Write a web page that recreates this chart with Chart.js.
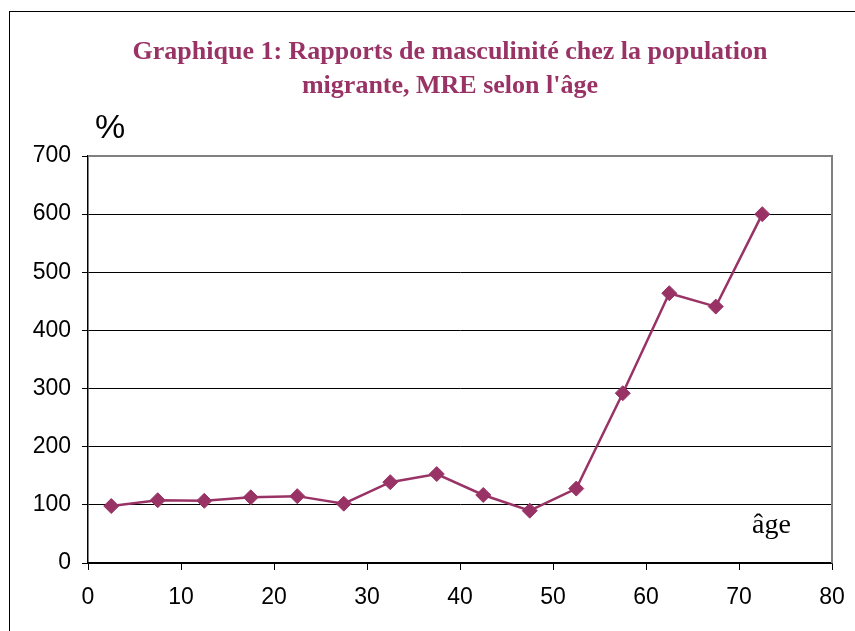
<!DOCTYPE html>
<html>
<head>
<meta charset="utf-8">
<script src="https://cdn.jsdelivr.net/npm/chart.js@4/dist/chart.umd.min.js"></script>
<style>
  html, body { margin: 0; padding: 0; background: #fff; overflow: hidden; }
  #wrap { position: relative; width: 855px; height: 631px; }
  #frame { position: absolute; left: 9px; top: 11px; width: 900px; height: 700px; border: 1.5px solid #000; }
  canvas { position: absolute; left: 0; top: 0; }
</style>
</head>
<body>
<div id="wrap">
  <div id="frame"></div>
  <canvas id="chart" width="855" height="631"></canvas>
</div>
<script>
// age group midpoints and sex ratio (%)
var ages = [2.5, 7.5, 12.5, 17.5, 22.5, 27.5, 32.5, 37.5, 42.5, 47.5, 52.5, 57.5, 62.5, 67.5, 72.5]
var ratios = [98, 108, 107, 113, 115, 102, 139, 153, 117, 90, 128, 292, 464, 441, 600]
var titleLines = ["Graphique 1: Rapports de masculinité chez la population", "migrante, MRE selon l'âge"]
var yUnit = "%"
var xName = "âge"

var color = "#993366"

const extraText = {
  id: "extraText",
  beforeDatasetsDraw(chart) {
    const { ctx, chartArea } = chart;
    // plot area border (top and right in grey)
    ctx.save();
    ctx.strokeStyle = "#808080";
    ctx.lineWidth = 2;
    ctx.beginPath();
    ctx.moveTo(chartArea.left, chartArea.top);
    ctx.lineTo(chartArea.right, chartArea.top);
    ctx.lineTo(chartArea.right, chartArea.bottom);
    ctx.stroke();
    ctx.restore();
  },
  afterDraw(chart) {
    const { ctx } = chart;
    ctx.save();
    ctx.fillStyle = color;
    ctx.textAlign = "center";
    ctx.textBaseline = "alphabetic";
    ctx.font = "bold 26px 'Liberation Serif', 'Times New Roman', serif";
    ctx.fillText(titleLines[0], 450, 59);
    ctx.fillText(titleLines[1], 450, 93);

    ctx.fillStyle = "#000";
    ctx.textAlign = "left";
    ctx.font = "34px 'Liberation Sans', Arial, sans-serif";
    ctx.fillText(yUnit, 95, 138);

    ctx.font = "28px 'Liberation Serif', 'Times New Roman', serif";
    ctx.fillText(xName, 752, 533);
    ctx.restore();
  }
};

new Chart(document.getElementById("chart"), {
  type: "line",
  data: {
    datasets: [{
      data: ages.map((a, i) => ({ x: a, y: ratios[i] })),
      borderColor: color,
      backgroundColor: color,
      borderWidth: 2.5,
      pointStyle: "rectRot",
      pointRadius: 7.5,
      pointBorderWidth: 1,
      tension: 0
    }]
  },
  options: {
    responsive: false,
    animation: false,
    layout: { padding: { top: 156, right: 23, bottom: 0, left: 0 } },
    plugins: {
      legend: { display: false },
      title: { display: false },
      tooltip: { enabled: false }
    },
    scales: {
      x: {
        type: "linear",
        min: 0,
        max: 80,
        afterFit(scale) {
          scale.height = 68;
          scale.paddingLeft = 0;
          scale.paddingRight = 0;
        },
        ticks: {
          stepSize: 10,
          padding: 14,
          color: "#000",
          font: { family: "'Liberation Sans', Arial, sans-serif", size: 23 }
        },
        grid: { drawOnChartArea: false, drawTicks: true, tickLength: 7, color: "#000" },
        border: { color: "#000", width: 1.5 }
      },
      y: {
        min: 0,
        max: 700,
        afterFit(scale) { scale.width = 88; },
        ticks: {
          stepSize: 100,
          padding: 11,
          color: "#000",
          font: { family: "'Liberation Sans', Arial, sans-serif", size: 23 }
        },
        grid: {
          color: (c) => (c.tick && c.tick.value === 700 ? "rgba(0,0,0,0)" : "#000"),
          tickColor: "#000",
          tickLength: 6,
          lineWidth: 1
        },
        border: { color: "#000", width: 1.5 }
      }
    }
  },
  plugins: [extraText]
});
</script>
</body>
</html>
